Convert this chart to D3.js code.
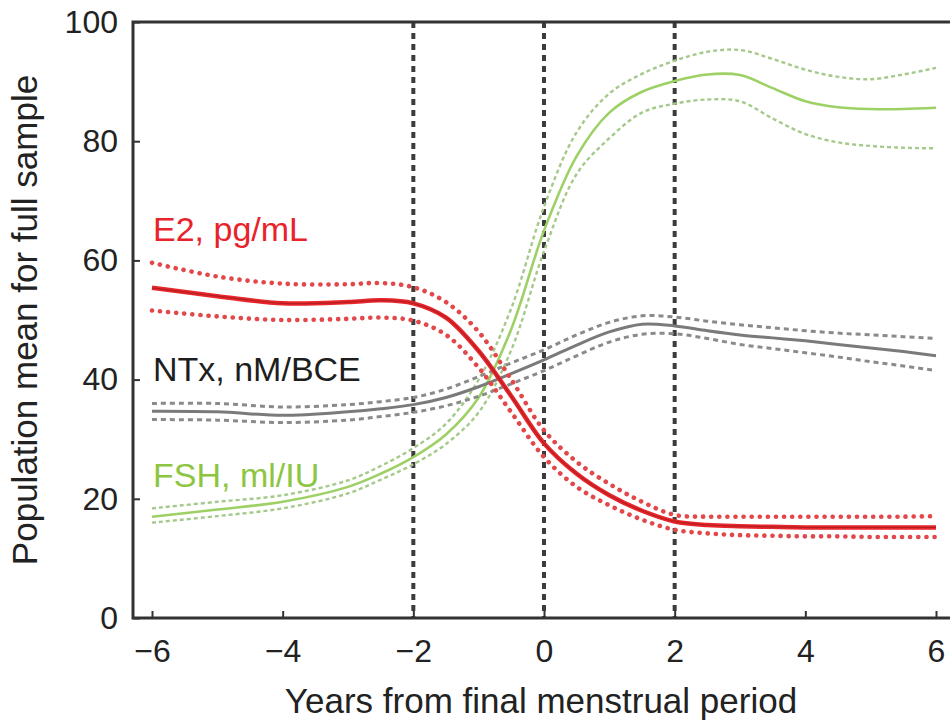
<!DOCTYPE html>
<html>
<head>
<meta charset="utf-8">
<script src="https://cdn.jsdelivr.net/npm/d3@7"></script>
<style>
  body { margin: 0; background: #fff; }
  text { font-family: "Liberation Sans", Arial, Helvetica, sans-serif; }
</style>
</head>
<body>
<svg></svg>
<script>
const w = 950;
const h = 725;

// Data
const years = [-6, -5, -4, -3, -2.5, -2, -1.5, -1, -0.5, 0, 0.5, 1, 1.5, 2, 2.5, 3, 3.5, 4, 4.5, 5, 5.5, 6];

const fshMean  = [17, 18.2, 19.5, 22, 24.2, 27, 30.8, 37, 48.5, 65, 77.5, 84.8, 88.3, 90.1, 91.2, 91.1, 88.9, 86.7, 85.7, 85.4, 85.4, 85.6];
const fshUpper = [18.4, 19.5, 20.6, 23.1, 25.5, 28.5, 32.6, 40, 52, 69, 81.5, 88, 91.3, 93.5, 95, 95.3, 93.8, 92, 90.8, 90.4, 91.2, 92.3];
const fshLower = [16, 17.1, 18.4, 20.9, 23.2, 25.8, 29.2, 34.5, 45, 61.5, 74.5, 80.5, 84.8, 86.3, 87, 86.7, 83.8, 81.2, 79.8, 79.2, 78.9, 78.8];

const e2Mean  = [55.4, 54, 52.8, 53, 53.3, 52.8, 50.4, 44.8, 37.2, 29.3, 24.2, 20.6, 18, 16.2, 15.6, 15.4, 15.3, 15.2, 15.2, 15.2, 15.2, 15.2];
const e2Upper = [59.6, 57.3, 56.1, 56, 56.2, 55.5, 53, 48, 40, 31.5, 26.2, 22.5, 19.5, 17.3, 17, 17, 17, 17, 17, 17, 17, 17.1];
const e2Lower = [51.6, 50.6, 50, 50.2, 50.4, 49.9, 47.5, 42, 34.5, 27, 22, 18.9, 16.5, 14.8, 14.2, 13.9, 13.8, 13.7, 13.7, 13.6, 13.6, 13.6];

const ntxMean  = [34.7, 34.6, 34, 34.6, 35.1, 35.8, 37, 38.8, 41, 43.3, 45.8, 48, 49.3, 49, 48.2, 47.5, 47, 46.5, 45.9, 45.3, 44.7, 44];
const ntxUpper = [36, 36, 35.4, 35.8, 36.3, 37, 38.4, 40.5, 42.8, 45, 47.5, 49.6, 50.7, 50.5, 49.8, 49.2, 48.7, 48.2, 47.8, 47.5, 47.2, 46.9];
const ntxLower = [33.3, 33.2, 32.8, 33.2, 33.8, 34.5, 35.6, 37.2, 39.3, 41.5, 44, 46.3, 47.6, 47.7, 46.9, 45.9, 45.2, 44.5, 43.8, 43, 42.3, 41.5];

const xTicks = [-6, -4, -2, 0, 2, 4, 6];
const yTicks = [0, 20, 40, 60, 80, 100];
const markers = [-2, 0, 2];

const labels = [
    { text: "E2, pg/mL", y: 63.2, color: "#e8232b" },
    { text: "NTx, nM/BCE", y: 39.8, color: "#1e1e1e" },
    { text: "FSH, ml/IU", y: 21.9, color: "#8cc641" }
];

// Layout
const pLeft = 133, pTop = 22, pBottom = 618, pRight = 952;

const svg = d3.select("svg")
    .attr("width", w)
    .attr("height", h);

const x = d3.scaleLinear().domain([-6, 6]).range([152, 936]);
const y = d3.scaleLinear().domain([0, 100]).range([pBottom, pTop]);

const line = vals => d3.line()
    .x((d, i) => x(years[i]))
    .y(d => y(d))
    .curve(d3.curveCatmullRom.alpha(0.5))(vals);

// Reference lines
svg.selectAll(".marker")
    .data(markers)
    .enter()
    .append("line")
    .attr("class", "marker")
    .attr("x1", d => x(d))
    .attr("x2", d => x(d))
    .attr("y1", pTop)
    .attr("y2", pBottom)
    .attr("stroke", "#3c3c3c")
    .attr("stroke-width", 4)
    .attr("stroke-dasharray", "6 5");

// FSH
svg.selectAll(".fsh-ci")
    .data([fshUpper, fshLower])
    .enter()
    .append("path")
    .attr("class", "fsh-ci")
    .attr("d", line)
    .attr("fill", "none")
    .attr("stroke", "#a4c98a")
    .attr("stroke-width", 2.4)
    .attr("stroke-dasharray", "4 3");

svg.append("path")
    .attr("d", line(fshMean))
    .attr("fill", "none")
    .attr("stroke", "#9dd065")
    .attr("stroke-width", 2.6);

// NTx
svg.selectAll(".ntx-ci")
    .data([ntxUpper, ntxLower])
    .enter()
    .append("path")
    .attr("class", "ntx-ci")
    .attr("d", line)
    .attr("fill", "none")
    .attr("stroke", "#8a8a8a")
    .attr("stroke-width", 3)
    .attr("stroke-dasharray", "5 4");

svg.append("path")
    .attr("d", line(ntxMean))
    .attr("fill", "none")
    .attr("stroke", "#7a7a7a")
    .attr("stroke-width", 3);

// E2
svg.selectAll(".e2-ci")
    .data([e2Upper, e2Lower])
    .enter()
    .append("path")
    .attr("class", "e2-ci")
    .attr("d", line)
    .attr("fill", "none")
    .attr("stroke", "#e2474a")
    .attr("stroke-width", 4.6)
    .attr("stroke-linecap", "round")
    .attr("stroke-dasharray", "0.1 8");

svg.append("path")
    .attr("d", line(e2Mean))
    .attr("fill", "none")
    .attr("stroke", "#e8262b")
    .attr("stroke-width", 4.5);

svg.append("path")
    .attr("d", line(e2Mean))
    .attr("fill", "none")
    .attr("stroke", "#8a1a1a")
    .attr("stroke-opacity", 0.55)
    .attr("stroke-width", 1.2);

// Series labels
svg.selectAll(".label")
    .data(labels)
    .enter()
    .append("text")
    .attr("class", "label")
    .attr("x", 153)
    .attr("y", d => y(d.y))
    .attr("fill", d => d.color)
    .attr("font-size", 34)
    .text(d => d.text);

// Axes
const xAxis = svg.append("g")
    .attr("transform", `translate(0,${pBottom})`)
    .call(d3.axisBottom(x).tickValues(xTicks).tickSizeInner(-7).tickSizeOuter(0).tickPadding(21)
        .tickFormat(d => d3.format("")(d).replace("-", "\u2212")));

const yAxis = svg.append("g")
    .attr("transform", `translate(${pLeft},0)`)
    .call(d3.axisLeft(y).tickValues(yTicks).tickSizeInner(-7).tickSizeOuter(0).tickPadding(15));

[xAxis, yAxis].forEach(g => {
    g.select(".domain").remove();
    g.selectAll(".tick line").attr("stroke", "#333").attr("stroke-width", 2);
    g.selectAll(".tick text")
        .attr("font-size", 32)
        .attr("fill", "#222")
        .style("font-family", "'Liberation Sans', Arial, Helvetica, sans-serif");
});

// Frame
svg.append("path")
    .attr("d", `M${pRight},${pTop}H${pLeft}V${pBottom}H${pRight}`)
    .attr("fill", "none")
    .attr("stroke", "#333")
    .attr("stroke-width", 3);

// Titles
svg.append("text")
    .attr("x", 541)
    .attr("y", 713)
    .attr("text-anchor", "middle")
    .attr("font-size", 35)
    .attr("fill", "#222")
    .text("Years from final menstrual period");

svg.append("text")
    .attr("transform", "translate(37,320) rotate(-90)")
    .attr("text-anchor", "middle")
    .attr("font-size", 35)
    .attr("fill", "#222")
    .text("Population mean for full sample");
</script>
</body>
</html>
